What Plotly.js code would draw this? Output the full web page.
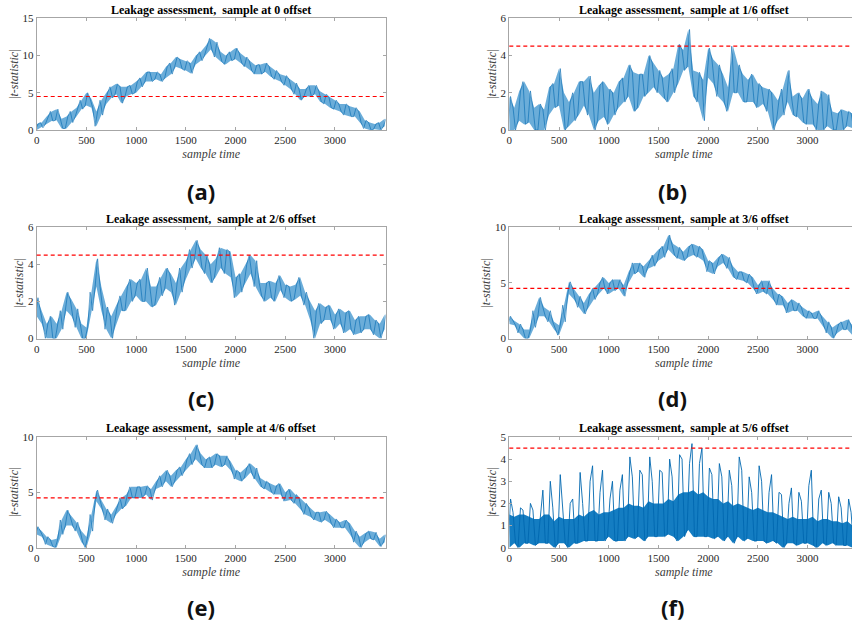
<!DOCTYPE html>
<html>
<head>
<meta charset="utf-8">
<script src="https://cdn.plot.ly/plotly-3.0.1.min.js"></script>
<style>
html,body{margin:0;padding:0;overflow:hidden;background:#fff;}
#chart{width:860px;height:627px;}
</style>
</head>
<body>
<div id="chart"></div>
<script>
// ---- data (per 50-sample bin: local min / local max of |t|) ----
const sampleTime = [0,50,100,150,200,250,300,350,400,450,500,550,600,650,700,750,800,850,900,950,
  1000,1050,1100,1150,1200,1250,1300,1350,1400,1450,1500,1550,1600,1650,1700,1750,1800,1850,1900,1950,
  2000,2050,2100,2150,2200,2250,2300,2350,2400,2450,2500,2550,2600,2650,2700,2750,2800,2850,2900,2950,
  3000,3050,3100,3150,3200,3250,3300,3350,3400,3450,3500];

const lowA = [0,0.3,0.8,1.2,1.3,0.2,0.2,1,1.8,2.8, 3.3,3,0.5,2,3.5,4.3,4.8,3.6,4.5,4.8,
  5,5.8,6.5,6.5,6.8,6.5,7,7.5,8.5,8.2, 8,7.6,8.8,9.3,10,10.8,9.8,9.2,8.8,9.3,
  9.5,9,8.5,8,7.5,7.5,7.8,7.2,6.8,6.5, 6,5.5,4.8,4,4.5,4.5,4.8,3.8,3.5,3,
  2.8,2.5,2,1.8,1.8,1,0.2,0,0.1,0,0.5];
const highA = [0.8,1,1.8,2.5,2.8,1.5,1.8,2.5,3,4, 5,4.2,2.5,4,5,5.8,6.2,5.8,5.8,6,
  6.5,7,7.8,7.8,7.8,7.5,8.5,9,9.8,9.5, 9.3,9,10,10.5,11.3,12.3,11.8,10.5,10,10.5,
  11,10.3,9.8,9.3,8.7,8.8,9,8.5,8,7.5, 7.3,6.8,6.3,5.5,5.5,6,6,5.2,4.8,4.5,
  4,3.5,3.5,3.2,3,2.5,1.3,1,0.8,1,1.5];

const lowB = [0,0,0.5,0.3,0.4,0,0,0,0.8,1.2, 1.3,0,0.2,0.5,0.8,1.3,0.8,0,0.5,0.7,
  0.3,0.8,1.2,1.5,1.8,1,1.2,1.8,2,2.3, 2,1.7,1.5,2,2.5,3.2,3.4,1.8,1.5,0.5,
  2.8,2.5,1.8,1.5,1,2,2,1.5,1.5,1.5, 1.2,1.4,1,0,0.5,0.8,1.5,0.8,0.7,0.4,
  0.3,0.3,0,0,0.2,0,0,0,0.2,0.1,0.3];
const highB = [1.8,1.2,2.1,2.6,2.1,1.2,1.4,1.1,2.3,2.5, 3.3,2,1.5,2,2.6,2.6,2.9,2,2.4,2.6,
  2.2,2,2.6,2.8,3.5,3.1,3,3,4,3.6, 3.2,2.8,3,3.3,4.6,4.3,5.4,3.2,3.1,2.7,
  4.4,3.8,3.5,3,2.3,4.5,3.5,3,2.7,3, 2.5,2.3,2.2,2,1.6,2.2,3.2,1.8,2,1.7,
  2.2,1.7,1.4,2.1,1.9,1,0.9,1.1,1,0.9,1.3];

const lowC = [1.2,0.8,0,0,0,0.5,1.5,1.2,0.6,0, 0,1.5,2.8,1.5,0.5,0,0.8,1.5,1.5,2,
  2.3,2,2,1.7,1.8,2.3,2.7,2.5,1.8,2.5, 3.2,3.8,4.3,3.8,3.5,3,3.3,3.8,3.5,3.3,
  2.2,2.5,3,3.5,2.8,2.3,2,2.2,2,2.6, 2.2,2,2.1,2.3,1.8,1,0,0.8,1,1,
  0.5,0.8,0.3,0.5,0.2,0.3,0.5,0.5,0.2,0,0.5];
const highC = [2.2,1.5,0.8,1.2,0.8,1.5,2.5,2.1,1.6,0.8, 0.6,2.5,4.3,2.8,1.7,1.2,1.8,2.3,2.8,3.2,
  3,3.2,3.8,2.8,2.8,3.3,3.8,3.5,3,3.8, 4.2,4.8,5.3,4.8,4.5,4,4.3,4.9,4.8,4.7,
  3.3,3.5,4,4.5,4.2,3,3,3.1,3,3.4, 2.9,2.8,2.9,3.3,2.5,2,1.5,1.9,1.7,1.8,
  1.3,1.6,1.4,1.5,1,1.2,1.2,1.3,1,0.8,1.3];

const lowD = [1.3,1.2,0.5,0,0,1,2,2,1.5,0.8, 0.3,1.5,4,3.5,2.8,2.2,2.8,3.5,4,4.5,
  4,4.3,4.5,3.8,5,5.8,6,5.5,6.3,6.5, 7,7.3,8,7.5,7.2,7,7.3,7.5,7.3,7,
  6,5.8,6.5,6.8,6.3,5.5,5.3,5.2,5,4.5, 4,4.2,4,3.5,3,3,2.3,2.5,2.5,2,
  1.8,1.8,1.8,1.2,0.5,0,0.5,0.8,0.8,0.3,0.5];
const highD = [2,1.6,1.3,0.8,0.8,2.5,3.7,2.8,2.5,1.5, 1.2,3,5.1,4.5,3.8,3.2,4,4.5,5,5.5,
  5,5.3,5.3,4.8,6,6.8,6.8,6.5,7,7.5, 8,8.3,9.3,8.5,8.2,7.8,8.3,8.5,8.3,8,
  7,6.8,7.3,7.6,7.3,6.5,6,6,5.8,5.5, 4.8,5.2,5.2,4.5,4,3.8,3.2,3.5,3.2,2.8,
  2.5,2.3,2.5,2,1.5,1,1.3,1.5,1.7,1.2,1.2];

const lowE = [1.2,1,0.3,0.1,0,1.2,2,2,1.5,0.5, 0,1.5,4.2,3.5,2.5,2.2,3,3.5,3.8,4.5,
  4.5,4.5,4.8,4.3,5.3,5.5,6,5.5,6,6.5, 7,7.5,8,7.5,7.2,7.2,7.5,7.3,7.5,7,
  6.2,6,6.3,6.8,6.2,5.5,5.3,5,4.8,4.8, 4.2,4.3,4,3.5,3,2.8,2.5,2.3,2.5,2.2,
  1.8,1.8,1.8,1.2,0.5,0,0.5,0.8,0.7,0.1,0.5];
const highE = [1.9,1.5,1,0.7,0.8,2.5,3.4,2.8,2.3,1.5, 1,3,5.2,4.3,3.5,3,3.8,4.5,4.8,5.5,
  5.5,5.5,5.6,5.3,6,6.5,7,6.5,7,7.3, 8,8.5,9.3,8.5,8,8.2,8.5,8.3,8.3,7.8,
  7,6.8,7.2,7.6,7.2,6.3,6,5.8,5.6,5.8, 5,5.3,4.8,4.5,4,3.6,3.2,3.2,3.3,3,
  2.6,2.3,2.5,2.2,1.5,1,1.3,1.5,1.4,0.8,1.2];

const lowF = [0,0.2,0,0.2,0.2,0.1,0.2,0.2,0.2,0, 0.2,0.2,0,0.2,0.2,0.3,0.3,0.3,0.3,0.3,
  0.5,0.3,0.3,0.3,0.5,0.4,0.5,0.3,0.5,0.5, 0.5,0.5,0.6,0.5,0.3,0.5,0.8,0.5,0.5,0.5,
  0.5,0.4,0.5,0.3,0.5,0.2,0.5,0.3,0.4,0.3, 0.3,0.3,0.2,0.3,0.2,0,0.2,0.2,0.1,0.2,
  0.2,0.1,0,0.2,0.1,0.2,0.1,0.1,0.1,0,0.3];
const highF = [2.2,1.6,1.8,1.7,2,1.7,1.6,2.6,3,1.8, 3.3,1.7,2,2.2,3.4,2,3,3.7,2.5,3.5,
  2.2,3,2.6,3.3,4.1,3.2,3.5,3.3,4.1,3, 3.5,3.4,4,3.2,4.2,4,3.8,4.7,3.8,4.5,
  3.6,3.3,3.8,3.2,3.5,2.8,4.1,3.5,3.2,2.5, 3.7,3,2.5,3.3,2.5,2.4,2,2.7,2.5,2.1,
  2.8,3.5,2.2,2.6,2.5,2,2.3,1.8,2.2,1.6,1.5];
// upper edge of the dense core of panel (f)
const coreF = [1.5,1.4,1.5,1.5,1.4,1.3,1.3,1.5,1.5,1.2, 1.4,1.3,1.3,1.3,1.5,1.4,1.6,1.7,1.5,1.6,
  1.6,1.7,1.8,1.8,2,1.9,1.9,1.8,2.1,2, 2,2,2.2,2.1,2.4,2.5,2.5,2.6,2.4,2.5,
  2.3,2.2,2.2,2,2.1,1.9,2,1.9,1.8,1.7, 1.8,1.7,1.6,1.6,1.5,1.4,1.3,1.4,1.3,1.3,
  1.3,1.4,1.2,1.3,1.3,1.2,1.2,1.1,1.2,1,1];

const threshold = 4.5;
const panelTitles = ['Leakage assessment,  sample at 0 offset','Leakage assessment,  sample at 1/6 offset',
  'Leakage assessment,  sample at 2/6 offset','Leakage assessment,  sample at 3/6 offset',
  'Leakage assessment,  sample at 4/6 offset','Leakage assessment,  sample at 5/6 offset'];
const panelLabels = ['(a)','(b)','(c)','(d)','(e)','(f)'];
const yTicks = [[0,5,10,15],[0,2,4,6],[0,2,4,6],[0,5,10],[0,5,10],[0,1,2,3,4,5]];
const yRanges = [[0,15],[0,6],[0,6],[0,10],[0,10],[0,5]];
const xTicks = [0,500,1000,1500,2000,2500,3000];
const lows = [lowA,lowB,lowC,lowD,lowE,lowF];
const highs = [highA,highB,highC,highD,highE,highF];
const bandTops = [highA,highB,highC,highD,highE,coreF];

// ---- layout geometry (pixels) ----
const W = 860, H = 627;
const colX = [[36.7,385.7],[509.3,858.3]];
const rowY = [[18.3,130],[227.3,338.5],[437,547.7]];
const titleY = [10,219,428];
const labelY = [191,398,607];
const labelX = [201,672];
const px = v => v / W, py = v => 1 - v / H;

const serif = 'Liberation Serif, Times New Roman, serif';
const traces = [], annotations = [], shapes = [];
const layout = {
  width: W, height: H, margin: {l:0,r:0,t:0,b:0},
  paper_bgcolor: '#fff', plot_bgcolor: '#fff', showlegend: false,
  font: {family: serif, color: '#262626', size: 11}
};

for (let i = 0; i < 6; i++) {
  const r = Math.floor(i / 2), c = i % 2;
  const sfx = i === 0 ? '' : String(i + 1);
  // dense band between bin minima and the band top
  const bx = sampleTime.concat(sampleTime.slice().reverse());
  const by = bandTops[i].concat(lows[i].slice().reverse());
  traces.push({type:'scatter', mode:'lines', x: bx, y: by, xaxis:'x'+sfx, yaxis:'y'+sfx,
    fill:'toself', fillcolor: i === 5 ? 'rgba(0,114,189,0.92)' : 'rgba(0,114,189,0.58)',
    line:{width:0, color:'rgba(0,0,0,0)'}, hoverinfo:'skip'});
  // min/max per bin drawn as a zig-zag through the bin
  const xs = [], ys = [];
  for (let k = 0; k < sampleTime.length; k++) {
    xs.push(sampleTime[k] - 12.5, sampleTime[k] + 12.5);
    if (k % 2 === 0) ys.push(lows[i][k], highs[i][k]); else ys.push(highs[i][k], lows[i][k]);
  }
  traces.push({type:'scatter', mode:'lines', x: xs, y: ys, xaxis:'x'+sfx, yaxis:'y'+sfx,
    line:{color:'#0068b0', width: i === 5 ? 0.9 : 0.6}, hoverinfo:'skip'});

  const axCommon = {showgrid:false, zeroline:false, showline:true, linecolor:'#a6a6a6', linewidth:1,
    mirror:'ticks', ticks:'inside', ticklen:3, tickcolor:'#a6a6a6', tickwidth:1,
    tickfont:{family:serif, size:11, color:'#262626'}, fixedrange:true};
  layout['xaxis'+sfx] = Object.assign({}, axCommon, {
    domain:[px(colX[c][0]), px(colX[c][1])], anchor:'y'+sfx, range:[0,3510],
    tickmode:'array', tickvals:xTicks, ticktext:xTicks.map(String),
    title:{text:'<i>sample time</i>', standoff:4, font:{family:serif, size:12, color:'#404040'}}
  });
  layout['yaxis'+sfx] = Object.assign({}, axCommon, {
    domain:[py(rowY[r][1]), py(rowY[r][0])], anchor:'x'+sfx, range:yRanges[i],
    tickmode:'array', tickvals:yTicks[i], ticktext:yTicks[i].map(String),
    title:{text:'|<i>t-statistic</i>|', standoff:1, font:{family:serif, size:12, color:'#404040'}}
  });
  shapes.push({type:'line', xref:'x'+sfx+' domain', yref:'y'+sfx, x0:0, x1:1, y0:threshold, y1:threshold,
    line:{color:'#ff0000', width:1.2, dash:'4px,3px'}});
  annotations.push({xref:'paper', yref:'paper', x:px((colX[c][0]+colX[c][1])/2), y:py(titleY[r]),
    xanchor:'center', yanchor:'middle', showarrow:false, text:'<b>'+panelTitles[i]+'</b>',
    font:{family:serif, size:12, color:'#000'}});
  annotations.push({xref:'paper', yref:'paper', x:px(labelX[c]), y:py(labelY[r]),
    xanchor:'center', yanchor:'middle', showarrow:false, text:'<b>'+panelLabels[i]+'</b>',
    font:{family:'Open Sans, DejaVu Sans, sans-serif', size:22, color:'#111'}});
}
layout.shapes = shapes;
layout.annotations = annotations;
Plotly.newPlot('chart', traces, layout, {displayModeBar:false, staticPlot:true});
</script>
</body>
</html>
